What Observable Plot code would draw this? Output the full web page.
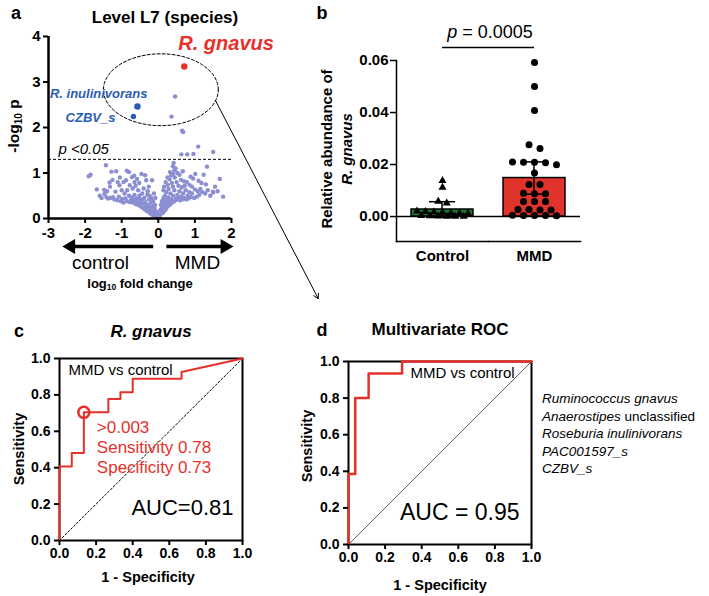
<!DOCTYPE html>
<html><head><meta charset="utf-8">
<script src="https://cdn.jsdelivr.net/npm/d3@7"></script>
<script src="https://cdn.jsdelivr.net/npm/@observablehq/plot@0.6"></script>
<style>
body{margin:0;background:#fff;font-family:"Liberation Sans",Arial,Helvetica,sans-serif;}
#fig{position:relative;width:709px;height:596px;overflow:hidden;background:#fff;}
.lbl{position:absolute;white-space:nowrap;color:#000;}
.lbl sub{font-size:65%;vertical-align:-0.25em;line-height:0;}
</style></head><body><div id="fig"></div>
<script>
// ================= DATA =================
// Panel a: volcano plot (log10 fold change, -log10 p)
const volcano = [
[0.46,2.68],[0.36,2.24],[0.65,1.93],[0.68,1.90],[0.63,1.41],[0.79,1.41],[0.96,1.42],[1.09,1.58],[1.50,1.46],
[-1.90,0.93],[-1.85,0.96],[-1.43,1.17],[-1.28,1.03],[-1.15,1.04],[-0.86,1.05],[-0.80,1.02],[-1.68,0.64],[-1.48,0.63],
[-1.47,0.54],[-1.42,0.47],[-1.37,0.44],[-1.33,0.79],[-1.32,0.70],[-1.11,0.80],[-1.06,0.73],[-1.17,0.59],[-1.24,0.47],
[-1.08,0.48],[-0.99,0.43],[-0.90,0.44],[-0.95,0.80],[-0.88,0.84],[-0.72,0.91],[-0.66,0.94],[-0.58,0.87],[-0.46,0.98],
[-0.36,0.95],[-0.33,0.84],[-0.17,0.84],[-0.78,0.73],[-0.70,0.66],[-0.62,0.72],[-0.55,0.62],[-0.85,0.62],[-1.00,0.62],
[-0.92,0.55],[-0.80,0.50],[-0.72,0.46],[-0.65,0.52],[-0.60,0.44],[-0.52,0.50],[-0.48,0.40],[-0.44,0.55],[-0.40,0.66],
[-0.38,0.45],[-0.35,0.36],[-0.30,0.52],[-0.28,0.30],[-0.25,0.42],[-0.22,0.25],[-0.20,0.35],[-0.18,0.18],[-0.15,0.28],
[-0.12,0.14],[-0.10,0.22],[-0.08,0.08],[-0.06,0.15],[-0.04,0.05],[-0.02,0.02],[-0.03,0.10],[-0.09,0.30],[-0.14,0.38],
[-0.19,0.45],[-0.24,0.50],[-0.29,0.60],[-1.55,0.45],[-1.60,0.50],[-1.30,0.45],[-1.20,0.42],[-1.12,0.40],[-1.02,0.38],
[-0.95,0.35],[-0.85,0.38],[-0.78,0.36],[-0.70,0.35],[-0.62,0.32],[-0.55,0.30],[-0.50,0.28],[-0.45,0.25],[-0.40,0.22],
[-0.36,0.20],[-0.32,0.17],[-0.27,0.15],[-0.23,0.12],[-0.19,0.10],[-0.16,0.08],[-0.13,0.06],[-0.58,0.38],[-0.66,0.40],
[-0.74,0.42],[-0.50,0.35],[-0.42,0.33],[-0.34,0.27],[-0.26,0.22],[-0.21,0.18],[-0.44,0.42],[-0.53,0.45],[-1.25,0.85],
[-1.40,0.60],[-1.05,0.90],[-0.65,0.80],[-0.52,0.78],[-0.26,0.70],[-0.12,0.55],[-0.08,0.45],
[0.42,1.22],[0.40,1.15],[0.44,1.06],[0.67,1.04],[1.01,0.98],[1.24,0.96],[1.33,1.14],[1.68,0.87],[1.77,0.48],[1.49,0.59],
[1.50,0.57],[0.20,0.80],[0.26,0.74],[0.31,0.86],[0.37,0.78],[0.45,0.90],[0.50,0.80],[0.35,0.95],[0.55,0.72],[0.62,0.85],
[0.70,0.82],[0.78,0.80],[0.85,0.74],[0.92,0.70],[1.00,0.64],[1.08,0.60],[1.12,0.52],[1.05,0.48],[0.98,0.45],[0.92,0.55],
[0.85,0.58],[0.80,0.50],[0.75,0.62],[0.68,0.55],[0.62,0.48],[0.58,0.60],[0.52,0.52],[0.48,0.44],[0.44,0.62],[0.40,0.50],
[0.36,0.42],[0.33,0.55],[0.30,0.38],[0.27,0.46],[0.24,0.32],[0.21,0.40],[0.18,0.26],[0.15,0.34],[0.13,0.20],[0.10,0.28],
[0.08,0.15],[0.06,0.10],[0.04,0.06],[0.02,0.03],[0.05,0.18],[0.09,0.22],[0.12,0.12],[0.16,0.16],[0.20,0.20],[0.23,0.24],
[0.27,0.28],[0.31,0.30],[0.35,0.33],[0.39,0.36],[0.43,0.38],[0.47,0.40],[0.52,0.42],[0.56,0.45],[0.60,0.40],[0.65,0.42],
[0.70,0.45],[0.76,0.42],[0.82,0.44],[0.88,0.47],[1.15,0.65],[1.20,0.58],[1.28,0.55],[1.35,0.62],[1.42,0.50],[1.30,0.75],
[1.18,0.78],[1.10,0.83],[0.95,0.88],[0.88,0.92],[0.58,0.96],[0.52,1.00],[0.47,1.10],[0.40,0.98],[0.32,1.02],[0.28,0.65],
[0.22,0.58],[0.18,0.50],[0.14,0.45],[0.10,0.38],[0.07,0.30],[0.16,0.70],[0.40,0.70],[0.64,0.68],[0.72,0.72],[1.55,0.70],
[1.62,0.60],[0.25,0.90],[0.14,0.62]
];
const hiNames = ["R. gnavus", "R. inulinivorans", "CZBV_s"];
const hiFC = [0.71, -0.57, -0.68];
const hiP = [3.34, 2.46, 2.24];
const pThreshold = 1.3;           // -log10(0.05)
const ellipseCenter = [0.07, 2.83];
const ellipseRadii = [1.57, 0.79];
const connectorAngle = -0.31;     // where the link leaves the ellipse
const connectorEnd = [4.37, -1.76];
const directionLabels = ["control", "MMD"];
const directionTails = [-0.14, 0.22];
const directionHeads = [-2.39, 1.82];
const directionLabelX = [-1.58, 1.07];

// Panel b: relative abundance of R. gnavus
const groups = ["Control", "MMD"];
const controlValues = [0.0138,0.0112,0.0058,0.0051,0.0021,0.0019,0.0017,0.0016,0.0014,0.0013,0.0012,0.0003,0.0002,0.0001,0,0,0];
const mmdValues = [0.0592,0.0500,0.0408,0.0276,0.0262,0.0209,0.0209,0.0199,0.0207,0.0210,0.0167,0.0123,0.0123,0.0088,0.0090,0.0088,0.0058,0.0058,0.0058,0.0025,0.0027,0.0025,0.0027,0.0004,0.0004,0.0004,0.0003,0.0005];
const barMeans = [0.0027, 0.0148];
const barErrors = [0.0030, 0.0062];
const pValueB = "0.0005";
const sigY = 0.065;

// Panel c: ROC of R. gnavus
const rocCfpr = [0, 0, 0.067, 0.067, 0.133, 0.133, 0.267, 0.267, 0.333, 0.333, 0.4, 0.4, 0.667, 0.667, 1];
const rocCtpr = [0, 0.407, 0.407, 0.481, 0.481, 0.704, 0.704, 0.778, 0.778, 0.815, 0.815, 0.889, 0.889, 0.926, 1];
const cutoffPoint = [0.133, 0.704];
const cutoffText = [">0.003", "Sensitivity 0.78", "Specificity 0.73"];
const aucC = "0.81";

// Panel d: multivariate ROC
const rocDfpr = [0, 0, 0.037, 0.037, 0.11, 0.11, 0.293, 0.293, 1];
const rocDtpr = [0, 0.385, 0.385, 0.80, 0.80, 0.934, 0.934, 1, 1];
const aucD = "0.95";
const legendSpecies = ["Ruminococcus gnavus", "Anaerostipes unclassified", "Roseburia inulinivorans", "PAC001597_s", "CZBV_s"];

const rocTicks = [0, 0.2, 0.4, 0.6, 0.8, 1.0];

// ================= RENDER =================
const fig = document.getElementById("fig");
const FONT = '"Liberation Sans", Arial, Helvetica, sans-serif';
const RED = "#e8302a", BLUE = "#2b5cb3", PURPLE = "#8b8fd2", GREEN = "#1a7a30", BARRED = "#e0332b";
const baseStyle = {fontFamily: FONT, fontSize: "14px", fontWeight: "bold", color: "black", background: "transparent", overflow: "visible"};

function place(el, left, top) {
  el.style.position = "absolute"; el.style.left = left + "px"; el.style.top = top + "px";
  el.style.overflow = "visible"; el.style.background = "transparent"; el.style.maxWidth = "none";
  fig.appendChild(el);
}
function label(html, x, y, o = {}) {
  const {size = 14, weight = "bold", italic = false, color = "#000", rotate = 0, anchor = "middle", lineHeight = 1} = o;
  const d = document.createElement("div");
  d.className = "lbl"; d.innerHTML = html;
  Object.assign(d.style, {left: x + "px", top: y + "px", fontSize: size + "px", fontWeight: weight,
    fontStyle: italic ? "italic" : "normal", color, lineHeight: String(lineHeight), textAlign: "center",
    transform: `translate(${anchor === "start" ? "0" : "-50%"}, -50%) rotate(${rotate}deg)`});
  fig.appendChild(d);
}
// Column-scatter layout (GraphPad style): values closer than `tol` share a row,
// and each row is spread symmetrically with spacing `step` (pixels).
function columnOffsets(values, tol, step) {
  const idx = d3.range(values.length).sort((a, b) => values[b] - values[a]);
  const off = new Array(values.length);
  let row = [];
  const flush = () => { row.forEach((j, k) => off[j] = (k - (row.length - 1) / 2) * step); row = []; };
  for (const j of idx) { if (row.length && values[row[0]] - values[j] > tol) flush(); row.push(j); }
  flush();
  return off;
}

// ---------- Panel a ----------
const volData = volcano.map(([fc, p]) => ({fc, p}));
const hiData = hiNames.map((name, i) => ({name, fc: hiFC[i], p: hiP[i]}));
const ellData = d3.range(0, 73).map(i => {
  const t = i / 72 * 2 * Math.PI;
  return {fc: ellipseCenter[0] + ellipseRadii[0] * Math.cos(t), p: ellipseCenter[1] + ellipseRadii[1] * Math.sin(t)};
});
const connData = [{
  x1: ellipseCenter[0] + ellipseRadii[0] * Math.cos(connectorAngle),
  y1: ellipseCenter[1] + ellipseRadii[1] * Math.sin(connectorAngle),
  x2: connectorEnd[0], y2: connectorEnd[1]}];
const dirData = directionLabels.map((label, i) => ({label, tail: directionTails[i], head: directionHeads[i], lx: directionLabelX[i]}));

const pa = Plot.plot({
  width: 250, height: 300, marginLeft: 48, marginRight: 19, marginTop: 36, marginBottom: 82,
  style: baseStyle,
  x: {domain: [-3, 2]}, y: {domain: [0, 4]},
  marks: [
    Plot.ruleY([pThreshold], {strokeDasharray: "3,2", strokeWidth: 1}),
    Plot.text([pThreshold], {x: () => -3, y: d => d, text: () => "p <0.05", dx: 10, dy: -10, textAnchor: "start",
      fontStyle: "italic", fontWeight: "normal", fontSize: 15}),
    Plot.line(ellData, {x: "fc", y: "p", strokeDasharray: "3,2", strokeWidth: 1}),
    Plot.arrow(connData, {x1: "x1", y1: "y1", x2: "x2", y2: "y2", strokeWidth: 1, headLength: 8}),
    Plot.dot(volData, {x: "fc", y: "p", r: 2.2, fill: PURPLE}),
    Plot.dot(hiData, {x: "fc", y: "p", r: d => d.name === "CZBV_s" ? 2.3 : 3.2, fill: d => d.name === "R. gnavus" ? RED : BLUE}),
    Plot.text(hiData.filter(d => d.name === "R. gnavus"), {x: "fc", y: "p", text: "name", dx: -6, dy: -23,
      textAnchor: "start", fontSize: 20, fontStyle: "italic", fill: RED}),
    Plot.text(hiData.filter(d => d.name === "R. inulinivorans"), {x: "fc", y: "p", text: "name", dx: 10, dy: -13,
      textAnchor: "end", fontSize: 13, fontStyle: "italic", fill: BLUE}),
    Plot.text(hiData.filter(d => d.name === "CZBV_s"), {x: "fc", y: "p", text: "name", dx: -18, dy: 1,
      textAnchor: "end", fontSize: 13, fontStyle: "italic", fill: BLUE}),
    Plot.ruleX([-3], {strokeWidth: 2.5}),
    Plot.ruleY([0], {strokeWidth: 2.5}),
    Plot.axisY({ticks: [0, 1, 2, 3, 4], tickFormat: d => String(d), tickSize: 5, tickPadding: 3, fontSize: 15, strokeWidth: 2, label: null}),
    Plot.axisX({ticks: [-3, -2, -1, 0, 1, 2], tickFormat: d => String(d), tickSize: 5, tickPadding: 4, fontSize: 15, strokeWidth: 2, label: null}),
    Plot.link(dirData, {x1: "tail", x2: "head", y1: () => 0, y2: () => 0, dy: 28, strokeWidth: 3.5}),
    Plot.dot(dirData, {x: "head", y: () => 0, dy: 28, symbol: "triangle", r: 5.5, fill: "black", rotate: d => d.head < 0 ? -90 : 90}),
    Plot.text(dirData, {x: "lx", y: () => 0, dy: 44, text: "label", fontSize: 19, fontWeight: "normal"})
  ]
});
place(pa, 0, 0);

// ---------- Panel b ----------
const offC = columnOffsets(controlValues, 0.0012, 8.5);
const offM = columnOffsets(mmdValues, 0.0016, 11);
const ptsControl = controlValues.map((v, i) => ({group: "Control", value: v, off: offC[i]}));
const ptsMMD = mmdValues.map((v, i) => ({group: "MMD", value: v, off: offM[i]}));
const barData = groups.map((group, i) => ({group, mean: barMeans[i], err: barErrors[i]}));

const pb = Plot.plot({
  width: 300, height: 290, marginLeft: 106, marginRight: 10, marginTop: 60, marginBottom: 49,
  style: baseStyle,
  fx: {domain: groups, padding: 0, label: null},
  x: {domain: [-46, 46], axis: null},
  y: {domain: [-0.0096, 0.06]},
  color: {domain: groups, range: [GREEN, BARRED]},
  marks: [
    Plot.barY(barData, {fx: "group", y: "mean", fill: "group", stroke: "black", strokeWidth: 1.5, insetLeft: 15, insetRight: 15}),
    Plot.ruleY([0], {strokeWidth: 1.5}),
    Plot.dot(ptsControl, {fx: "group", x: "off", y: "value", r: 3, symbol: "triangle", fill: "black"}),
    Plot.dot(ptsMMD, {fx: "group", x: "off", y: "value", r: 3.5, fill: "black"}),
    Plot.barY(barData, {fx: "group", y1: d => d.mean - d.err, y2: d => d.mean + d.err, fill: "black", insetLeft: 45.25, insetRight: 45.25}),
    Plot.tickY(barData, {fx: "group", y: d => d.mean + d.err, strokeWidth: 1.5, insetLeft: 33, insetRight: 33}),
    Plot.tickY(barData, {fx: "group", y: d => d.mean - d.err, strokeWidth: 1.5, insetLeft: 33, insetRight: 33}),
    Plot.tickY(barData.filter(d => d.group === groups[0]), {fx: "group", y: () => sigY, strokeWidth: 1.5, insetLeft: 46}),
    Plot.tickY(barData.filter(d => d.group === groups[1]), {fx: "group", y: () => sigY, strokeWidth: 1.5, insetRight: 46}),
    Plot.frame({anchor: "bottom", strokeWidth: 1.5}),
    Plot.frame({anchor: "left", strokeWidth: 1.5, facetAnchor: "left"}),
    Plot.axisY({ticks: [0, 0.02, 0.04, 0.06], tickFormat: d3.format(".2f"), tickSize: 6, tickPadding: 2, fontSize: 15, strokeWidth: 1.5, label: null}),
    Plot.axisFx({anchor: "bottom", tickSize: 0, tickPadding: 9, fontSize: 15, label: null})
  ]
});
place(pb, 290, 0);

// ---------- Panel c ----------
const rocC = rocCfpr.map((fpr, i) => ({fpr, tpr: rocCtpr[i]}));
const rocD = rocDfpr.map((fpr, i) => ({fpr, tpr: rocDtpr[i]}));

const pc = Plot.plot({
  width: 250, height: 296, marginLeft: 59, marginRight: 8, marginTop: 58, marginBottom: 56,
  style: baseStyle,
  x: {domain: [0, 1]}, y: {domain: [0, 1]},
  marks: [
    Plot.line([0, 1], {x: d => d, y: d => d, strokeDasharray: "2,2", strokeWidth: 1}),
    Plot.frame({strokeWidth: 2}),
    Plot.line(rocC, {x: "fpr", y: "tpr", stroke: RED, strokeWidth: 2}),
    Plot.dot([cutoffPoint], {x: d => d[0], y: d => d[1], r: 5.5, stroke: RED, strokeWidth: 2.5, fill: "none"}),
    Plot.text([cutoffPoint], {x: d => d[0], y: d => d[1], text: () => cutoffText.join("\n"), dx: 13, dy: 34,
      textAnchor: "start", lineAnchor: "middle", lineHeight: 1.18, fontSize: 17, fontWeight: "normal", fill: RED}),
    Plot.text(["MMD vs control"], {frameAnchor: "top-left", dx: 9, dy: 12, textAnchor: "start", lineAnchor: "middle", fontSize: 15, fontWeight: "normal"}),
    Plot.text([aucC], {frameAnchor: "bottom-right", text: d => `AUC=${d}`, dx: -9, dy: -33, textAnchor: "end", lineAnchor: "middle", fontSize: 22, fontWeight: "normal"}),
    Plot.axisY({ticks: rocTicks, tickFormat: d3.format(".1f"), tickSize: 5, tickPadding: 4, fontSize: 14, strokeWidth: 2, label: null}),
    Plot.axisX({ticks: rocTicks, tickFormat: d3.format(".1f"), tickSize: 5, tickPadding: 3, fontSize: 14, strokeWidth: 2, label: null})
  ]
});
place(pc, 0, 300);

// ---------- Panel d ----------
const pd = Plot.plot({
  width: 240, height: 296, marginLeft: 48, marginRight: 9, marginTop: 61, marginBottom: 52,
  style: baseStyle,
  x: {domain: [0, 1]}, y: {domain: [0, 1]},
  marks: [
    Plot.line([0, 1], {x: d => d, y: d => d, stroke: "#333", strokeWidth: 0.8}),
    Plot.frame({strokeWidth: 2}),
    Plot.line(rocD, {x: "fpr", y: "tpr", stroke: RED, strokeWidth: 2.5}),
    Plot.text(["MMD vs control"], {frameAnchor: "top-left", dx: 62, dy: 12, textAnchor: "start", lineAnchor: "middle", fontSize: 15, fontWeight: "normal"}),
    Plot.text([aucD], {frameAnchor: "bottom-right", text: d => `AUC = ${d}`, dx: -12, dy: -32, textAnchor: "end", lineAnchor: "middle", fontSize: 23, fontWeight: "normal"}),
    Plot.axisY({ticks: rocTicks, tickFormat: d3.format(".1f"), tickSize: 5, tickPadding: 4, fontSize: 14, strokeWidth: 2, label: null}),
    Plot.axisX({ticks: rocTicks, tickFormat: d3.format(".1f"), tickSize: 5, tickPadding: 3, fontSize: 14, strokeWidth: 2, label: null})
  ]
});
place(pd, 300, 300);

// ---------- Text labels ----------
label("a", 16, 13, {size: 18});
label("Level L7 (species)", 165, 17, {size: 17});
label("-log<sub>10</sub> p", 14, 126, {size: 15.5, rotate: -90});
label("log<sub>10</sub> fold change", 140, 283, {size: 13});

label("b", 322, 13, {size: 18});
label(`<i>p</i> = ${pValueB}`, 490, 32, {size: 18, weight: "normal"});
label("Relative abundance of<br><i>R. gnavus</i>", 337, 149, {size: 15, rotate: -90, lineHeight: 1.35});

label("c", 19, 331, {size: 18});
label("<i>R. gnavus</i>", 151, 331, {size: 17});
label("Sensitivity", 19, 449, {size: 14.5, rotate: -90});
label("1 - Specificity", 148, 577, {size: 14.5});

label("d", 322, 330, {size: 18});
label("Multivariate ROC", 440, 329, {size: 17});
label("Sensitivity", 307, 446, {size: 14.5, rotate: -90});
label("1 - Specificity", 440, 585, {size: 14.5});

legendSpecies.forEach((s, i) => {
  const html = s.endsWith(" unclassified")
    ? `<i>${s.replace(" unclassified", "")}</i> unclassified`
    : `<i>${s}</i>`;
  label(html, 542, 399 + i * 17.5, {size: 13.5, weight: "normal", anchor: "start"});
});
</script></body></html>
